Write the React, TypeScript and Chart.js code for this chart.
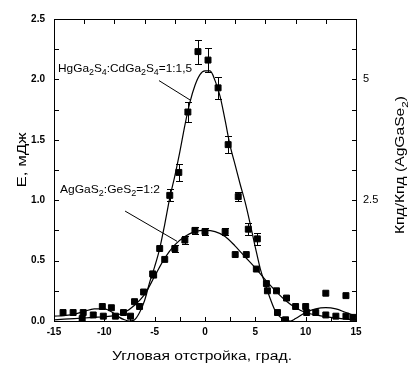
import React, { useEffect, useRef, useState } from "react";
import { Chart, registerables } from "chart.js";

Chart.register(...registerables);

// ---- axis ranges & ticks ----
const X_MIN = -15;
const X_MAX = 15;
const Y_MIN = 0;
const Y_MAX = 2.5;
const Y2_MAX = 6.25;
const X_LABEL_STEP = 5;
const Y_LABEL_STEP = 0.5;
const Y2_LABEL_TICKS = [2.5, 5];
const BOTTOM_MINOR_TICKS = [-12.5, -10, -7.5, -5, -2.5, 0, 2.5, 5, 7.5, 10, 12.5];
const TOP_MINOR_TICKS = [-12, -9, -6, -3, 0, 3, 6, 9, 12];
const LEFT_MINOR_TICKS = [0.25, 0.5, 0.75, 1, 1.25, 1.5, 1.75, 2, 2.25];
const RIGHT_MINOR_TICKS = [0.625, 1.25, 1.875, 2.5, 3.125, 3.75, 4.375, 5, 5.625];

// ---- HgGa2S4:CdGa2S4 = 1:1,5 (measured points) ----
const HG_X = [-12.2, -10.1, -8.9, -7.4, -6.5, -5.2, -4.5, -3.5, -2.6, -1.7, -0.7, 0.3, 1.3, 2.3, 3.3, 4.3, 5.2, 6.1, 7.2, 8.0, 10.1, 12, 14];
const HG_Y = [0.02, 0.04, 0.04, 0.04, 0.12, 0.39, 0.6, 1.04, 1.23, 1.73, 2.23, 2.16, 1.93, 1.46, 1.03, 0.76, 0.68, 0.31, 0.07, 0.01, 0.07, 0.23, 0.21];
const HG_ERR = [0, 0, 0, 0, 0, 0, 0, 0.05, 0.07, 0.08, 0.1, 0.1, 0.09, 0.07, 0.04, 0.05, 0.05, 0, 0, 0, 0, 0, 0];

// ---- AgGaS2:GeS2 = 1:2 (measured points) ----
const AG_X = [-14.1, -13.1, -12.1, -11.1, -10.2, -9.3, -8.1, -7.0, -6.1, -5.1, -4, -3, -2, -1, 0, 2, 3, 4.1, 5.1, 6.2, 7.1, 8.1, 9, 10, 11, 12, 13, 14, 14.7];
const AG_Y = [0.07, 0.07, 0.07, 0.05, 0.12, 0.11, 0.07, 0.16, 0.24, 0.38, 0.51, 0.6, 0.67, 0.75, 0.74, 0.74, 0.55, 0.55, 0.43, 0.25, 0.25, 0.19, 0.12, 0.12, 0.07, 0.05, 0.04, 0.04, 0.03];
const AG_ERR = [0, 0, 0, 0, 0, 0, 0, 0, 0, 0, 0, 0.03, 0.03, 0.03, 0.03, 0.03, 0, 0, 0, 0, 0, 0, 0, 0, 0, 0, 0, 0, 0];

// ---- fitted curves ----
const HG_FIT_X = [-15, -14, -13, -12, -11, -10, -9, -8.5, -8, -7.5, -7, -6.5, -6, -5.5, -5, -4.5, -4, -3.5, -3, -2.5, -2, -1.5, -1, -0.5, 0, 0.5, 1, 1.5, 2, 2.5, 3, 3.5, 4, 4.5, 5, 5.5, 6, 6.5, 7, 7.5, 8, 8.5, 9, 10, 11, 12, 13, 14, 15];
const HG_FIT_Y = [0.04, 0.045, 0.055, 0.08, 0.1, 0.1, 0.06, 0.03, 0.01, 0.0, 0.01, 0.07, 0.17, 0.32, 0.45, 0.6, 0.8, 1.02, 1.2, 1.4, 1.62, 1.81, 1.95, 2.04, 2.07, 2.07, 1.99, 1.86, 1.66, 1.45, 1.29, 1.13, 0.98, 0.8, 0.61, 0.43, 0.3, 0.18, 0.08, 0.03, 0.01, 0.0, 0.02, 0.07, 0.1, 0.11, 0.1, 0.07, 0.04];
const AG_FIT_X = [-15, -14, -13, -12, -11, -10, -9, -8, -7, -6, -5, -4, -3, -2, -1, 0, 1, 2, 3, 4, 5, 6, 7, 8, 9, 10, 11, 12, 13, 14, 15];
const AG_FIT_Y = [0.01, 0.015, 0.02, 0.025, 0.03, 0.035, 0.045, 0.07, 0.13, 0.22, 0.37, 0.52, 0.63, 0.7, 0.74, 0.75, 0.74, 0.7, 0.62, 0.53, 0.44, 0.34, 0.25, 0.17, 0.11, 0.07, 0.05, 0.035, 0.025, 0.015, 0.01];

// ---- texts ----
const X_TITLE = "Угловая отстройка, град.";
const Y_TITLE = "Е, мДж";
const Y2_TITLE: [string, boolean][] = [["Кпд/Кпд (AgGaSe", false], ["2", true], [")", false]];
const HG_LABEL: [string, boolean][] = [["HgGa", false], ["2", true], ["S", false], ["4", true], [":CdGa", false], ["2", true], ["S", false], ["4", true], ["=1:1,5", false]];
const AG_LABEL: [string, boolean][] = [["AgGaS", false], ["2", true], [":GeS", false], ["2", true], ["=1:2", false]];
// annotation anchors in data units
const HG_LABEL_POS = [-14.6, 2.06];
const AG_LABEL_POS = [-14.4, 1.06];
const HG_POINTER = [[-4.57, 1.99], [-1.49, 1.83]];
const AG_POINTER = [[-7.94, 0.91], [-2.78, 0.66]];

const FAM = "'Liberation Sans', Arial, sans-serif";
const pts = (xs: number[], ys: number[]) => xs.map((x, i) => ({ x, y: ys[i] }));

function richWidth(ctx: CanvasRenderingContext2D, parts: [string, boolean][], size: number, family: string) {
  let w = 0;
  for (const [t, sub] of parts) {
    ctx.font = `${sub ? size * 0.75 : size}px ${family}`;
    w += ctx.measureText(t).width;
  }
  return w;
}

function drawRich(
  ctx: CanvasRenderingContext2D,
  parts: [string, boolean][],
  x: number,
  y: number,
  size: number,
  family: string,
  target: number,
  align: "left" | "center",
  rot = 0
) {
  const natural = richWidth(ctx, parts, size, family);
  const sx = natural > 0 ? target / natural : 1;
  ctx.save();
  ctx.translate(x, y);
  if (rot) ctx.rotate(rot);
  ctx.scale(sx, 1);
  let cx = align === "center" ? -natural / 2 : 0;
  ctx.textAlign = "left";
  ctx.textBaseline = "alphabetic";
  ctx.fillStyle = "#000";
  for (const [t, sub] of parts) {
    ctx.font = `${sub ? size * 0.75 : size}px ${family}`;
    ctx.fillText(t, cx, sub ? size * 0.3 : 0);
    cx += ctx.measureText(t).width;
  }
  ctx.restore();
}

const framePlugin = {
  id: "frame",
  afterDraw(chart: any) {
    try {
      const { ctx, chartArea: a, scales } = chart;
      const xs = scales.x;
      const ys = scales.y;
      const y2 = scales.y2;
      const L = Math.round(a.left);
      const R = Math.round(a.right);
      const T = Math.round(a.top);
      const B = Math.round(a.bottom);
      ctx.save();
      ctx.fillStyle = "#000";
      ctx.fillRect(L, T, R - L + 1, 1);
      ctx.fillRect(L, B, R - L + 1, 1);
      ctx.fillRect(L, T, 1, B - T + 1);
      ctx.fillRect(R, T, 1, B - T + 1);
      const TL = 4;
      BOTTOM_MINOR_TICKS.forEach((v) => ctx.fillRect(Math.round(xs.getPixelForValue(v)), B - TL, 1, TL));
      TOP_MINOR_TICKS.forEach((v) => ctx.fillRect(Math.round(xs.getPixelForValue(v)), T + 1, 1, TL));
      LEFT_MINOR_TICKS.forEach((v) => ctx.fillRect(L + 1, Math.round(ys.getPixelForValue(v)), TL, 1));
      RIGHT_MINOR_TICKS.forEach((v) => ctx.fillRect(R - TL, Math.round(y2.getPixelForValue(v)), TL, 1));
      ctx.restore();
    } catch (e) {
      /* ignore */
    }
  },
};

const decorPlugin = {
  id: "decor",
  afterDraw(chart: any) {
    const { ctx, chartArea: a, scales } = chart;
    const xs = scales.x;
    const ys = scales.y;
    try {
      ctx.save();
      ctx.fillStyle = "#000";
      const drawErr = (X: number[], Y: number[], E: number[]) => {
        X.forEach((xv, i) => {
          if (!E[i]) return;
          const px = Math.round(xs.getPixelForValue(xv));
          const t = Math.round(ys.getPixelForValue(Y[i] + E[i]));
          const b = Math.round(ys.getPixelForValue(Y[i] - E[i]));
          ctx.fillRect(px, t, 1, b - t + 1);
          ctx.fillRect(px - 3, t, 7, 1);
          ctx.fillRect(px - 3, b, 7, 1);
        });
      };
      drawErr(HG_X, HG_Y, HG_ERR);
      drawErr(AG_X, AG_Y, AG_ERR);
      ctx.strokeStyle = "#000";
      ctx.lineWidth = 1;
      ctx.beginPath();
      [HG_POINTER, AG_POINTER].forEach((seg) => {
        ctx.moveTo(xs.getPixelForValue(seg[0][0]), ys.getPixelForValue(seg[0][1]));
        ctx.lineTo(xs.getPixelForValue(seg[1][0]), ys.getPixelForValue(seg[1][1]));
      });
      ctx.stroke();
      ctx.restore();
    } catch (e) {
      /* ignore */
    }
    try {
      drawRich(ctx, HG_LABEL, xs.getPixelForValue(HG_LABEL_POS[0]), ys.getPixelForValue(HG_LABEL_POS[1]), 11, FAM, 134, "left");
      drawRich(ctx, AG_LABEL, xs.getPixelForValue(AG_LABEL_POS[0]), ys.getPixelForValue(AG_LABEL_POS[1]), 11, FAM, 100, "left");
      const cxPlot = (a.left + a.right) / 2;
      drawRich(ctx, [[X_TITLE, false]], cxPlot - 3, 360, 12, FAM, 180, "center");
      drawRich(ctx, [[Y_TITLE, false]], 26, 160, 12, FAM, 55, "center", -Math.PI / 2);
      drawRich(ctx, Y2_TITLE, 404, 165, 12, FAM, 138, "center", -Math.PI / 2);
    } catch (e) {
      /* ignore */
    }
  },
};

type Area = { left: number; top: number; right: number; bottom: number } | null;

export default function App() {
  const ref = useRef<HTMLCanvasElement | null>(null);
  const [area, setArea] = useState<Area>(null);
  useEffect(() => {
    if (!ref.current) return;
    const tickFont = { family: FAM, size: 10, weight: "bold" as const };
    const noGrid = { display: false, drawTicks: false };
    const axisBorder = { display: true, color: "#000", width: 1 };
    const chart = new Chart(ref.current, {
      type: "scatter",
      data: {
        datasets: [
          {
            type: "line",
            data: pts(HG_FIT_X, HG_FIT_Y),
            borderColor: "#000",
            borderWidth: 1.2,
            pointRadius: 0,
            cubicInterpolationMode: "monotone",
            fill: false,
          } as any,
          {
            type: "line",
            data: pts(AG_FIT_X, AG_FIT_Y),
            borderColor: "#000",
            borderWidth: 1.2,
            pointRadius: 0,
            cubicInterpolationMode: "monotone",
            fill: false,
          } as any,
          {
            data: pts(HG_X, HG_Y),
            pointStyle: "rect",
            pointRadius: 4.2,
            backgroundColor: "#000",
            borderColor: "#000",
            borderWidth: 1,
          },
          {
            data: pts(AG_X, AG_Y),
            pointStyle: "rect",
            pointRadius: 4.2,
            backgroundColor: "#000",
            borderColor: "#000",
            borderWidth: 1,
          },
        ],
      },
      options: {
        animation: false,
        responsive: true,
        maintainAspectRatio: false,
        layout: { padding: { top: 19, left: 0, right: 0, bottom: 0 } },
        plugins: { legend: { display: false }, tooltip: { enabled: false } },
        scales: {
          x: {
            type: "linear",
            position: "bottom",
            min: X_MIN,
            max: X_MAX,
            grid: noGrid,
            border: axisBorder,
            ticks: { stepSize: X_LABEL_STEP, color: "#000", font: tickFont, padding: 5, maxRotation: 0, callback: (v: any) => String(v) },
            afterFit: (s: any) => { s.height = 51; },
          },
          y: {
            type: "linear",
            position: "left",
            min: Y_MIN,
            max: Y_MAX,
            grid: noGrid,
            border: axisBorder,
            ticks: { stepSize: Y_LABEL_STEP, color: "#000", font: tickFont, padding: 9, callback: (v: any) => Number(v).toFixed(1) },
            afterFit: (s: any) => { s.width = 54; },
          },
          y2: {
            type: "linear",
            position: "right",
            min: 0,
            max: Y2_MAX,
            grid: noGrid,
            border: axisBorder,
            afterBuildTicks: (s: any) => { s.ticks = Y2_LABEL_TICKS.map((v) => ({ value: v })); },
            ticks: { color: "#000", font: { family: FAM, size: 11 }, padding: 7, callback: (v: any) => String(v) },
            afterFit: (s: any) => { s.width = 62; },
          },
        },
      },
      plugins: [framePlugin, decorPlugin],
    });
    const a = chart.chartArea;
    if (a) setArea({ left: a.left, top: a.top, right: a.right, bottom: a.bottom });
    return () => chart.destroy();
  }, []);
  return (
    <div style={{ position: "fixed", left: 0, top: 0, width: 418, height: 372, background: "#fff" }}>
      <canvas ref={ref} />
      {area && (
        <div
          style={{
            position: "absolute",
            left: Math.round(area.left),
            top: Math.round(area.top),
            width: Math.round(area.right) - Math.round(area.left) + 1,
            height: Math.round(area.bottom) - Math.round(area.top) + 1,
            border: "1px solid #000",
            boxSizing: "border-box",
            pointerEvents: "none",
          }}
        />
      )}
    </div>
  );
}
